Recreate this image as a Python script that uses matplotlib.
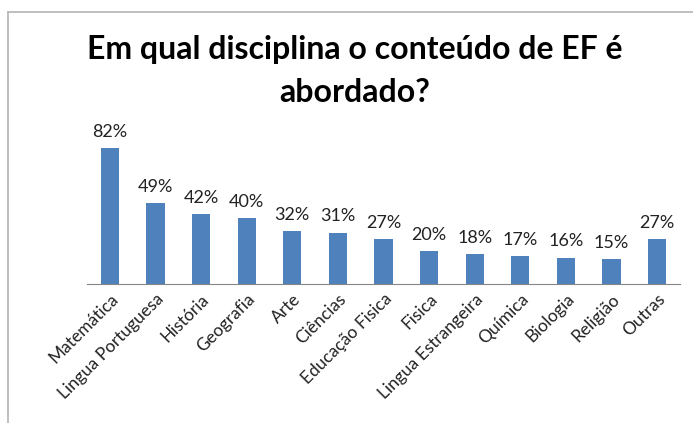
import numpy as np
import matplotlib.pyplot as plt
from matplotlib.lines import Line2D

# Disciplinas e percentuais de respostas
disciplinas = ['Matemática', 'Lingua Portuguesa', 'História', 'Geografia', 'Arte',
               'Ciências', 'Educação Fisica', 'Fisica', 'Lingua Estrangeira',
               'Química', 'Biologia', 'Religião', 'Outras']
percentuais = [82, 49, 42, 40, 32, 31, 27, 20, 18, 17, 16, 15, 27]

plt.rcParams['font.family'] = ['Lato', 'DejaVu Sans']

W, H = 693, 423
fig = plt.figure(figsize=(W / 100, H / 100), dpi=100)

# area do grafico em pixels: x de 87 a 680, base em y=284
ax = fig.add_axes([87 / W, (H - 284) / H, 593 / W, 149 / H])

x = np.arange(len(disciplinas))
bars = ax.bar(x, percentuais, width=0.4, color='#4F81BD')
for xi, v in zip(x, percentuais):
    ax.text(xi, v + 5, f'{v}%', ha='center', va='bottom', fontsize=13, color='#222222')

ax.set_xlim(-0.5, len(disciplinas) - 0.5)
ax.set_ylim(0, 90)
ax.set_yticks([])
ax.set_xticks(x)
ax.set_xticklabels(disciplinas, rotation=45, ha='right', rotation_mode='anchor',
                   fontsize=12.5, color='#222222')
ax.tick_params(axis='x', length=0, pad=5)
for s in ['top', 'right', 'left']:
    ax.spines[s].set_visible(False)
ax.spines['bottom'].set_color('#868686')

fig.text(355 / W, 1 - 50 / H, 'Em qual disciplina o conteúdo de EF é',
         ha='center', va='center', fontsize=23, fontweight='bold')
fig.text(355 / W, 1 - 93 / H, 'abordado?',
         ha='center', va='center', fontsize=23, fontweight='bold')

# moldura do grafico (esquerda e topo)
fig.add_artist(Line2D([8 / W, 8 / W], [0, 1 - 12 / H], color='#b4b4b4', lw=1.2))
fig.add_artist(Line2D([8 / W, 1], [1 - 12 / H, 1 - 12 / H], color='#b4b4b4', lw=1.2))

fig.savefig('out.png', dpi=100)
